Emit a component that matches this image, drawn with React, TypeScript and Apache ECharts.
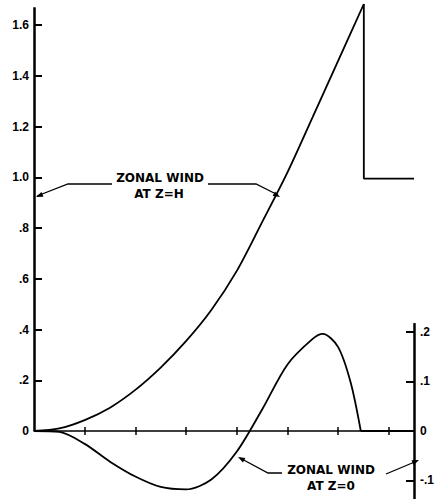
import React, { useEffect, useRef } from "react";
import * as echarts from "echarts";

// ---- Tick values / labels ----
const xTickValues = [1, 2, 3, 4, 5, 6, 7];
const leftTickValues = [0, 0.2, 0.4, 0.6, 0.8, 1.0, 1.2, 1.4, 1.6];
const leftTickLabels = ["0", ".2", ".4", ".6", ".8", "1.0", "1.2", "1.4", "1.6"];
const rightTickValues = [-0.1, 0, 0.1, 0.2];
const rightTickLabels = ["-.1", "0", ".1", ".2"];

// ---- Axis extents ----
const X_MIN = 0;
const X_MAX = 7.5;
const LEFT_MIN = -0.268;
const LEFT_MAX = 1.683;
const RIGHT_MIN = -0.1374;
const RIGHT_MAX = 0.8626;
const LEFT_AXIS_TOP = 1.67;
const RIGHT_AXIS_TOP = 0.218;

// ---- Zonal wind at Z=H (left axis) ----
const windAtHRise: [number, number][] = [
  [0, 0],
  [0.5, 0.01],
  [1.0, 0.043],
  [1.5, 0.092],
  [2.0, 0.162],
  [2.5, 0.25],
  [3.0, 0.354],
  [3.5, 0.477],
  [4.0, 0.63],
  [4.5, 0.822],
  [5.0, 1.018],
  [5.5, 1.237],
  [6.0, 1.458],
  [6.51, 1.683],
];
const windAtHDrop: [number, number][] = [
  [6.51, 1.683],
  [6.51, 0.995],
  [7.5, 0.995],
];

// ---- Zonal wind at Z=0 (right axis) ----
const windAt0Curve: [number, number][] = [
  [0, 0],
  [0.5, -0.002],
  [1.0, -0.026],
  [1.5, -0.062],
  [2.0, -0.092],
  [2.5, -0.113],
  [3.0, -0.118],
  [3.5, -0.098],
  [4.0, -0.042],
  [4.5, 0.043],
  [5.0, 0.134],
  [5.5, 0.186],
  [5.7, 0.196],
  [6.0, 0.17],
  [6.25, 0.098],
  [6.45, 0],
];
const windAt0Tail: [number, number][] = [
  [6.45, 0],
  [7.5, 0],
];

const labelFor = (values: number[], labels: string[]) => (v: number) => {
  const i = values.findIndex((t) => Math.abs(t - v) < 1e-6);
  return i >= 0 ? labels[i] : "";
};

const arrowHead = (tip: [number, number], from: [number, number], len = 7, half = 2.6) => {
  const dx = tip[0] - from[0];
  const dy = tip[1] - from[1];
  const d = Math.hypot(dx, dy) || 1;
  const ux = dx / d;
  const uy = dy / d;
  const bx = tip[0] - ux * len;
  const by = tip[1] - uy * len;
  return {
    type: "polygon",
    silent: true,
    shape: {
      points: [
        tip,
        [bx - uy * half, by + ux * half],
        [bx + uy * half, by - ux * half],
      ],
    },
    style: { fill: "#000" },
  };
};

const leader = (points: [number, number][]) => ({
  type: "polyline",
  silent: true,
  shape: { points },
  style: { stroke: "#000", lineWidth: 1.3, fill: null },
});

const label = (text: string, x: number, y: number) => ({
  type: "text",
  silent: true,
  x,
  y,
  style: {
    text,
    fill: "#000",
    font: 'bold 12px "DejaVu Sans"',
    align: "center",
    verticalAlign: "middle",
    textAlign: "center",
    textVerticalAlign: "middle",
  },
});

const tickFont = {
  color: "#000",
  fontFamily: '"Liberation Sans", Arial, sans-serif',
  fontWeight: "bold" as const,
  fontSize: 12,
};

export default function App() {
  const ref = useRef<HTMLDivElement>(null);

  useEffect(() => {
    if (!ref.current) return;
    const chart = echarts.init(ref.current, undefined, { renderer: "svg" });
    const lineStyle = { color: "#000", width: 1.8 };
    const axisMark = (coords: [number, number][]) => ({
      silent: true,
      symbol: ["none", "none"],
      label: { show: false },
      lineStyle: { color: "#000", width: 2.5, type: "solid" },
      emphasis: { disabled: true },
      data: [[{ coord: coords[0] }, { coord: coords[1] }]],
    });

    chart.setOption({
      animation: false,
      backgroundColor: "#fff",
      grid: { left: 34, right: 16, top: 4, bottom: 0, containLabel: false },
      xAxis: [
        {
          type: "value",
          min: X_MIN,
          max: X_MAX,
          position: "bottom",
          axisLine: { show: true, onZero: true, onZeroAxisIndex: 0, lineStyle: { color: "#000", width: 1.5 } },
          axisTick: { show: true, inside: true, length: 4, customValues: xTickValues, lineStyle: { color: "#000", width: 1.5 } },
          axisLabel: { show: false },
          splitLine: { show: false },
        },
        {
          type: "value",
          min: X_MIN,
          max: X_MAX,
          position: "bottom",
          axisLine: { show: false, onZero: true, onZeroAxisIndex: 0 },
          axisTick: { show: true, inside: false, length: 4, customValues: xTickValues, lineStyle: { color: "#000", width: 1.5 } },
          axisLabel: { show: false },
          splitLine: { show: false },
        },
      ],
      yAxis: [
        {
          type: "value",
          min: LEFT_MIN,
          max: LEFT_MAX,
          position: "left",
          axisLine: { show: false, onZero: false },
          axisTick: { show: true, inside: true, length: 8, customValues: leftTickValues, lineStyle: { color: "#000", width: 2 } },
          axisLabel: { show: true, customValues: leftTickValues, formatter: labelFor(leftTickValues, leftTickLabels), margin: 5, ...tickFont },
          splitLine: { show: false },
        },
        {
          type: "value",
          min: RIGHT_MIN,
          max: RIGHT_MAX,
          position: "right",
          axisLine: { show: false, onZero: false },
          axisTick: { show: true, inside: true, length: 8, customValues: rightTickValues, lineStyle: { color: "#000", width: 2 } },
          axisLabel: { show: true, customValues: rightTickValues, formatter: labelFor(rightTickValues, rightTickLabels), margin: 6, ...tickFont },
          splitLine: { show: false },
        },
      ],
      series: [
        {
          name: "Zonal wind at Z=H",
          type: "line",
          xAxisIndex: 0,
          yAxisIndex: 0,
          data: windAtHRise,
          smooth: 0.3,
          showSymbol: false,
          lineStyle,
          z: 3,
          markLine: axisMark([
            [0, 0],
            [0, LEFT_AXIS_TOP],
          ]),
        },
        {
          name: "Zonal wind at Z=H (jump)",
          type: "line",
          xAxisIndex: 0,
          yAxisIndex: 0,
          data: windAtHDrop,
          showSymbol: false,
          lineStyle,
          z: 3,
        },
        {
          name: "Zonal wind at Z=0",
          type: "line",
          xAxisIndex: 0,
          yAxisIndex: 1,
          data: windAt0Curve,
          smooth: 0.3,
          showSymbol: false,
          lineStyle,
          z: 3,
          markLine: axisMark([
            [X_MAX, RIGHT_MIN],
            [X_MAX, RIGHT_AXIS_TOP],
          ]),
        },
        {
          name: "Zonal wind at Z=0 (tail)",
          type: "line",
          xAxisIndex: 0,
          yAxisIndex: 1,
          data: windAt0Tail,
          showSymbol: false,
          lineStyle,
          z: 3,
        },
      ],
      graphic: [
        label("ZONAL WIND", 160, 178),
        label("AT Z=H", 159, 194),
        leader([
          [37, 196],
          [68, 184],
          [112, 184],
        ]),
        arrowHead([36, 197], [68, 184]),
        leader([
          [208, 184],
          [256, 184],
          [278, 195],
        ]),
        arrowHead([280, 197], [256, 184]),
        label("ZONAL WIND", 331, 470),
        label("AT Z=0", 331, 486),
        leader([
          [240, 458],
          [268, 473],
          [282, 473],
        ]),
        arrowHead([238, 457], [268, 473]),
        leader([
          [386, 474],
          [417, 461],
        ]),
        arrowHead([419, 460], [386, 474]),
      ],
    });
    return () => chart.dispose();
  }, []);

  return (
    <div
      ref={ref}
      style={{ position: "fixed", left: 0, top: 0, width: 437, height: 499, background: "#fff" }}
    />
  );
}
